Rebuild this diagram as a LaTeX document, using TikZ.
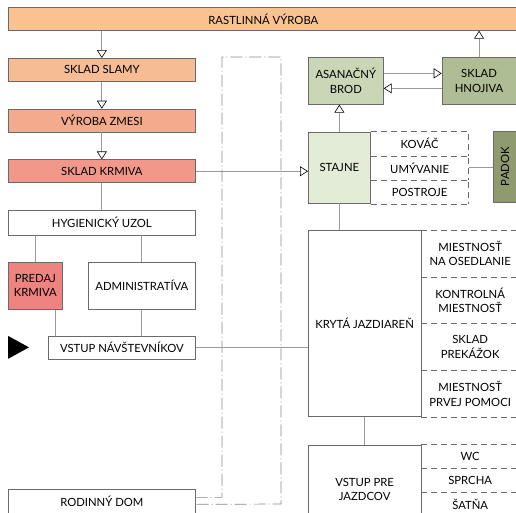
\documentclass[tikz,border=0pt]{standalone}
\usepackage{fontspec}
\setmainfont{Lato}
\usetikzlibrary{arrows.meta,positioning}
\definecolor{edge}{HTML}{6A6A6A}
\definecolor{wire}{HTML}{9A9A9A}
\definecolor{rastlina}{HTML}{F9C391}
\definecolor{slama}{HTML}{F6BC94}
\definecolor{zmes}{HTML}{F4AA8D}
\definecolor{krmivo}{HTML}{F2988A}
\definecolor{predaj}{HTML}{EF8380}
\definecolor{brod}{HTML}{CAD7B6}
\definecolor{hnoj}{HTML}{AFBD95}
\definecolor{stajne}{HTML}{E3ECD6}
\definecolor{padok}{HTML}{8F9B6E}

\begin{document}
\begin{tikzpicture}[
  x=1pt, y=-1pt,
  font=\fontsize{11.3}{14.5}\selectfont,
  box/.style={draw=edge, line width=0.7pt, minimum width=187pt, minimum height=23pt,
              inner sep=2pt, align=center},
  room/.style={minimum width=97.5pt, inner sep=1pt, align=center},
  dashes/.style={draw=edge, line width=0.6pt, dash pattern=on 6pt off 4pt},
  link/.style={draw=wire, line width=0.8pt},
  plot/.style={draw=edge!80, line width=0.7pt, dash pattern=on 12pt off 3pt on 1pt off 3pt},
  >={Triangle[color=black, fill=white, length=8pt, width=10pt, line width=0.6pt]}
]
\useasboundingbox (0,0) rectangle (516,512);

\node[box, fill=rastlina, minimum width=510pt, anchor=north west] (bar) at (8,7) {RASTLINNÁ VÝROBA};
\node[box, fill=slama, anchor=north west] (slama) at (8,58) {SKLAD SLAMY};
\node[box, fill=zmes, below=27pt of slama] (zmes) {VÝROBA ZMESI};
\node[box, fill=krmivo, below=27pt of zmes] (krmivo) {SKLAD KRMIVA};
\node[box, fill=white, minimum height=24.5pt, below=27pt of krmivo] (hygiena) {HYGIENICKÝ UZOL};
\node[box, fill=predaj, minimum width=54pt, minimum height=47pt,
      below=26.5pt of hygiena.south west, anchor=north west] (predaj) {PREDAJ\\KRMIVA};
\node[box, minimum width=107pt, minimum height=47pt,
      below=26.5pt of hygiena.south east, anchor=north east] (admin) {ADMINISTRATÍVA};
\node[box, minimum width=147pt, below=26pt of admin.south east, anchor=north east] (vstup) {VSTUP NÁVŠTEVNÍKOV};
\node[box, minimum height=24pt, anchor=north west] (rodina) at (8,489) {RODINNÝ DOM};

\node[box, fill=brod, minimum width=75pt, minimum height=47pt, anchor=north west] (brod) at (308,57) {ASANAČNÝ\\BROD};
\node[box, fill=hnoj, minimum width=74pt, minimum height=47pt, right=58pt of brod] (hnojivo) {SKLAD\\HNOJIVA};
\node[box, fill=stajne, minimum width=62pt, minimum height=71pt,
      below=27pt of brod.south west, anchor=north west] (stajne) {STAJNE};
\node[room, minimum height=23.7pt, anchor=north west] (kovac) at (stajne.north east) {KOVÁČ};
\node[room, minimum height=23.7pt, below=0pt of kovac] (umyvanie) {UMÝVANIE};
\node[room, minimum height=23.7pt, below=0pt of umyvanie] (postroje) {POSTROJE};
\node[box, fill=padok, rotate=90, minimum width=71pt, minimum height=23pt] (padok) at (505,166.5) {PADOK};

\node[box, minimum width=112.5pt, minimum height=186pt,
      below=26.5pt of stajne.south west, anchor=north west] (jazdiaren) {KRYTÁ JAZDIAREŇ};
\node[room, minimum height=46.5pt, anchor=north west] (sedlo) at (jazdiaren.north east) {MIESTNOSŤ\\NA OSEDLANIE};
\node[room, minimum height=46.5pt, below=0pt of sedlo] (kontrola) {KONTROLNÁ\\MIESTNOSŤ};
\node[room, minimum height=46.5pt, below=0pt of kontrola] (prekazky) {SKLAD\\PREKÁŽOK};
\node[room, minimum height=46.5pt, below=0pt of prekazky] (pomoc) {MIESTNOSŤ\\PRVEJ POMOCI};
\node[box, minimum width=112.5pt, minimum height=89pt,
      below=28pt of jazdiaren.south west, anchor=north west] (jazdci) {VSTUP PRE\\JAZDCOV};
\node[room, minimum height=23.5pt, anchor=north west] (wc) at (jazdci.north east) {WC};
\node[room, minimum height=23.5pt, below=0pt of wc] (sprcha) {SPRCHA};
\node[room, minimum height=23.5pt, below=0pt of sprcha] (satna) {ŠATŇA};

\foreach \r in {kovac,umyvanie,postroje,sedlo,kontrola,prekazky,pomoc,wc,sprcha,satna}
  \draw[dashes] (\r.north west) -- (\r.north east) -- (\r.south east);
\foreach \r in {postroje,pomoc,satna}
  \draw[dashes] (\r.south west) -- (\r.south east);

\fill ([xshift=-19pt]vstup.west) -- ++(-21,-11.5) -- ++(0,23) -- cycle;

\draw[link, ->] (slama.north |- bar.south) -- (slama);
\draw[link, ->] (slama) -- (zmes);
\draw[link, ->] (zmes) -- (krmivo);
\draw[link] (krmivo) -- (hygiena);
\draw[link] (hygiena.south -| predaj.north) -- (predaj);
\draw[link] (hygiena.south -| admin.north) -- (admin);
\draw[link] ([xshift=20pt]predaj.south) -- ([xshift=20pt]predaj.south |- vstup.north);
\draw[link] (admin) -- (admin.south |- vstup.north);
\draw[link] (vstup.east) -- (vstup.east -| jazdiaren.west);
\draw[link, ->] (krmivo.east) -- (krmivo.east -| stajne.west);
\draw[link, ->] (stajne.north) -- (stajne.north |- brod.south);
\draw[link, ->] ([yshift=7.5pt]brod.east) -- ([yshift=7.5pt]brod.east -| hnojivo.west);
\draw[link, ->] ([yshift=-7.5pt]hnojivo.west) -- ([yshift=-7.5pt]hnojivo.west -| brod.east);
\draw[link, ->] (hnojivo.north) -- (hnojivo.north |- bar.south);
\draw[link] (umyvanie.east) -- (umyvanie.east -| padok.north);
\draw[link] (stajne.south) -- (stajne.south |- jazdiaren.north);
\draw[link] (jazdiaren) -- (jazdci);
\draw[plot] ([yshift=4pt]rodina.east) -| (222,57) -| (281,504) -- ([yshift=-3pt]rodina.east);
\end{tikzpicture}
\end{document}
